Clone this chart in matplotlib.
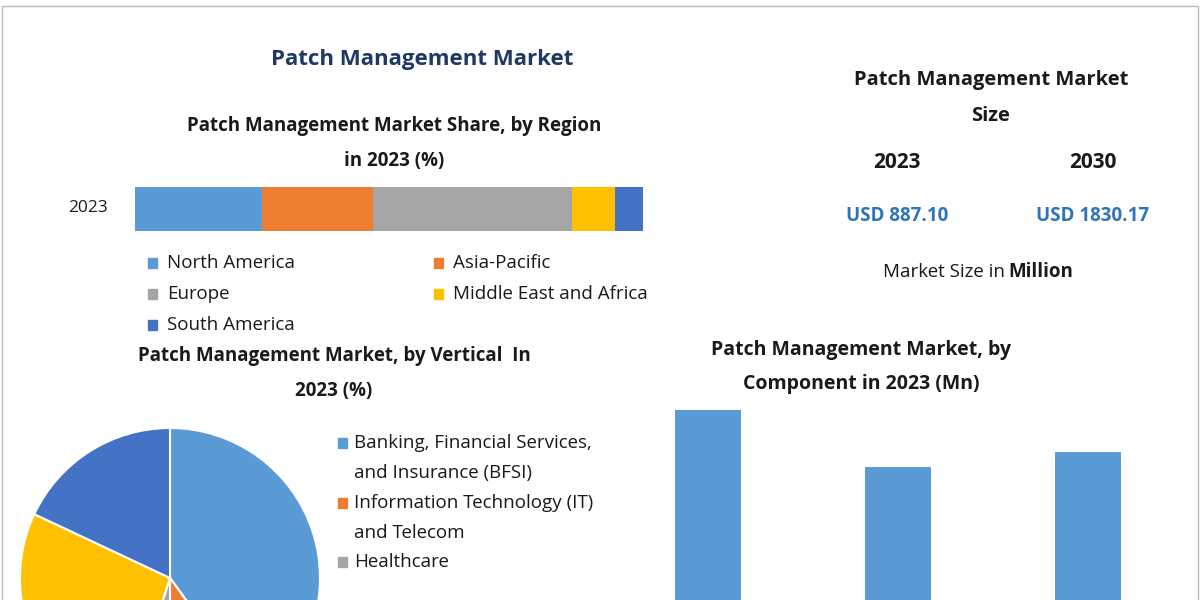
import matplotlib
matplotlib.use("Agg")
import matplotlib.pyplot as plt
from matplotlib.patches import Rectangle

plt.rcParams["font.family"] = "Open Sans"

regions = ["North America", "Asia-Pacific", "Europe", "Middle East and Africa", "South America"]
region_share = [25.0, 21.9, 39.2, 8.5, 5.5]
verticals = ["Banking, Financial Services,\nand Insurance (BFSI)", "Information Technology (IT)\nand Telecom", "Healthcare", "Retail", "Government"]
vertical_share = [40, 10, 5, 27, 18]
components = ["Solution", "Services", "Other"]
component_values = [290, 233, 248]
years = ["2023", "2030"]
market_size = ["USD 887.10", "USD 1830.17"]

colors = ["#5B9BD5", "#ED7D31", "#A5A5A5", "#FFC000", "#4472C4"]
W, H = 1200, 600
fig = plt.figure(figsize=(12, 6), dpi=100)
fig.patch.set_facecolor("white")

def px(x, y):
    return x / W, 1 - y / H

def box(x0, y0, x1, y1):
    return [x0 / W, 1 - y1 / H, (x1 - x0) / W, (y1 - y0) / H]

def text(x, y, s, size=12, weight="normal", color="#1a1a1a", ha="center"):
    fig.text(*px(x, y), s, fontsize=size, fontweight=weight, color=color, ha=ha, va="center")

fig.add_artist(Rectangle((0.002, -0.01), 0.996, 1.0, transform=fig.transFigure, fill=False, ec="#bbbbbb", lw=1))

text(422, 60, "Patch Management Market", 16, "bold", "#1F3864")
text(394, 126, "Patch Management Market Share, by Region", 13.5, "bold")
text(394, 161, "in 2023 (%)", 13.5, "bold")
text(88, 208, "2023", 12.5)

ax = fig.add_axes(box(135, 187, 643, 231))
left = 0
for v, c in zip(region_share, colors):
    ax.barh(0, v, left=left, height=1, color=c)
    left += v
ax.set_xlim(0, sum(region_share)); ax.set_ylim(-0.5, 0.5); ax.axis("off")

leg_pos = [(148, 263), (434, 263), (148, 294), (434, 294), (148, 325)]
for (x, y), name, c in zip(leg_pos, regions, colors):
    fig.add_artist(Rectangle(px(x, y + 5), 9 / W, 10 / H, transform=fig.transFigure, color=c))
    text(x + 19, y, name, 13.5, ha="left")

text(991, 80, "Patch Management Market", 14.5, "bold")
text(991, 116, "Size", 14.5, "bold")
for x, yr, val in zip([897, 1093], years, market_size):
    text(x, 162, yr, 15, "bold")
    text(x, 216, val, 13.5, "bold", "#2E75B6")
text(1005, 272, "Market Size in", 13.5, ha="right")
text(1008, 272, "Million", 13.5, "bold", ha="left")

text(334, 356, "Patch Management Market, by Vertical  In", 13.5, "bold")
text(334, 391, "2023 (%)", 13.5, "bold")
pax = fig.add_axes(box(20, 428, 320, 728))
pax.pie(vertical_share, colors=colors, startangle=90, counterclock=False,
        wedgeprops=dict(edgecolor="white", linewidth=1.5))
pax.set_xlim(-1, 1); pax.set_ylim(-1, 1); pax.set_aspect("equal")
vleg = [(338, 443), (338, 503), (338, 562)]
for (x, y), name, c in zip(vleg, verticals[:3], colors):
    fig.add_artist(Rectangle(px(x, y + 5), 9 / W, 10 / H, transform=fig.transFigure, color=c))
    for i, ln in enumerate(name.split("\n")):
        text(x + 16, y + 30 * i, ln, 13.5, ha="left")

text(861, 350, "Patch Management Market, by", 14, "bold")
text(861, 384, "Component in 2023 (Mn)", 14, "bold")
bax = fig.add_axes(box(640, 400, 1140, 700))
bax.bar(range(len(components)), component_values, width=0.35, color="#5B9BD5")
bax.set_xlim(-0.358, 2.274); bax.set_ylim(0, 300); bax.axis("off")

fig.savefig("out.png", dpi=100)
